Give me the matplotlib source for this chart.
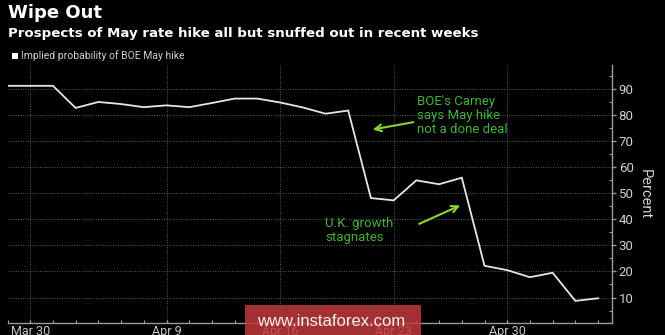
import matplotlib
matplotlib.use("Agg")
import matplotlib.pyplot as plt
from matplotlib.patches import Rectangle
from matplotlib.ticker import MultipleLocator, FixedLocator

# Business days from Mar 29 to May 4 (2018)
dates = ["Mar 29", "Mar 30", "Apr 2", "Apr 3", "Apr 4", "Apr 5", "Apr 6",
         "Apr 9", "Apr 10", "Apr 11", "Apr 12", "Apr 13",
         "Apr 16", "Apr 17", "Apr 18", "Apr 19", "Apr 20",
         "Apr 23", "Apr 24", "Apr 25", "Apr 26", "Apr 27",
         "Apr 30", "May 1", "May 2", "May 3", "May 4"]
probability = [91.3, 91.3, 91.3, 82.8, 85.1, 84.3, 83.1,
               83.8, 83.1, 84.7, 86.4, 86.4,
               84.9, 83.0, 80.6, 81.8, 48.2,
               47.3, 55.0, 53.5, 56.0, 22.2,
               20.5, 17.8, 19.5, 8.7, 9.7]
tick_labels = ["Mar 30", "Apr 9", "Apr 16", "Apr 23", "Apr 30"]
y_ticks = [10, 20, 30, 40, 50, 60, 70, 80, 90]

tick_idx = [dates.index(t) for t in tick_labels]
x = list(range(len(dates)))

NARROW = ["Liberation Sans Narrow", "Roboto", "DejaVu Sans"]
SANS = ["Roboto", "DejaVu Sans"]

W, H = 665, 335
fig = plt.figure(figsize=(W / 100, H / 100), dpi=100, facecolor="black")
ax = fig.add_axes([7.5 / W, 1 - 322.5 / H, (611.7 - 7.5) / W, (322.5 - 65) / H])
ax.set_facecolor("black")

ax.plot(x, probability, color="#e6e6e6", lw=1.3, solid_joinstyle="miter", zorder=3)

ax.set_xlim(0, 26.6)
ax.set_ylim(0.4, 99.3)

ax.yaxis.tick_right()
ax.yaxis.set_label_position("right")
ax.set_yticks(y_ticks)
ax.set_yticklabels([str(v) for v in y_ticks], family=SANS)
ax.yaxis.set_minor_locator(MultipleLocator(5))
ax.set_xticks(tick_idx)
ax.set_xticklabels(tick_labels, family=NARROW)
ax.xaxis.set_minor_locator(FixedLocator(x))

for s in ["top", "left"]:
    ax.spines[s].set_visible(False)
for s in ["right", "bottom"]:
    ax.spines[s].set_color("#9a9a9a")
    ax.spines[s].set_linewidth(1.0)

ax.tick_params(axis="y", which="major", colors="#9a9a9a", labelcolor="#d0d0d0",
               length=3, width=1, labelsize=9.5, pad=2)
ax.tick_params(axis="y", which="minor", colors="#9a9a9a", length=2, width=0.8,
               direction="in")
ax.tick_params(axis="x", which="major", colors="#9a9a9a", labelcolor="#c8c8c8",
               length=2.5, width=1, labelsize=9, pad=2, direction="in")
ax.tick_params(axis="x", which="minor", colors="#9a9a9a", length=2, width=0.8,
               direction="in")

ax.grid(True, which="major", color="#5a5a5a", linestyle=(0, (1, 1.5)), lw=0.7)

ax.set_ylabel("Percent", color="#d0d0d0", fontsize=10.5, rotation=270,
              labelpad=13, family=SANS)

green_text = "#3fb23a"
green_arrow = "#8dd332"
ax.annotate("", xy=(370, 335 - 130), xycoords="figure pixels",
            xytext=(416, 335 - 121.7), textcoords="figure pixels",
            arrowprops=dict(arrowstyle="->", color=green_arrow, lw=1.5,
                            mutation_scale=12))
ax.annotate("", xy=(462.7, 335 - 204.3), xycoords="figure pixels",
            xytext=(416.7, 335 - 225), textcoords="figure pixels",
            arrowprops=dict(arrowstyle="->", color=green_arrow, lw=1.5,
                            mutation_scale=12))
fig.text(417 / W, 1 - 95 / H, "BOE's Carney\nsays May hike\nnot a done deal",
         color=green_text, fontsize=9.5, va="top", ha="left", linespacing=1.1,
         family=SANS)
fig.text(325 / W, 1 - 217 / H, "U.K. growth\nstagnates",
         color=green_text, fontsize=9.5, va="top", ha="left", linespacing=1.1,
         family=SANS)

fig.text(8 / W, 1 - 13 / H, "Wipe Out", color="white", fontsize=13,
         fontweight="bold", va="center", ha="left")
fig.text(8 / W, 1 - 33 / H, "Prospects of May rate hike all but snuffed out in recent weeks",
         color="white", fontsize=9.6, fontweight="bold", va="center", ha="left")

fig.patches.append(Rectangle((12 / W, 1 - 59 / H), 6 / W, 6 / H,
                             transform=fig.transFigure, facecolor="white",
                             edgecolor="none", figure=fig))
fig.text(21 / W, 1 - 56 / H, "Implied probability of BOE May hike",
         color="#cfcfcf", fontsize=7.5, va="center", ha="left", family=NARROW)

# watermark
fig.patches.append(Rectangle((245 / W, 0), (421 - 245) / W, 30 / H,
                             transform=fig.transFigure, facecolor="#c0393b",
                             alpha=0.85, edgecolor="none", figure=fig, zorder=10))
fig.text(331 / W, 14 / H, "www.instaforex.com", color="#f0f0f0", fontsize=12,
         va="center", ha="center", zorder=11, family=["Liberation Sans", "DejaVu Sans"])

fig.savefig("out.png", dpi=100, facecolor="black")
